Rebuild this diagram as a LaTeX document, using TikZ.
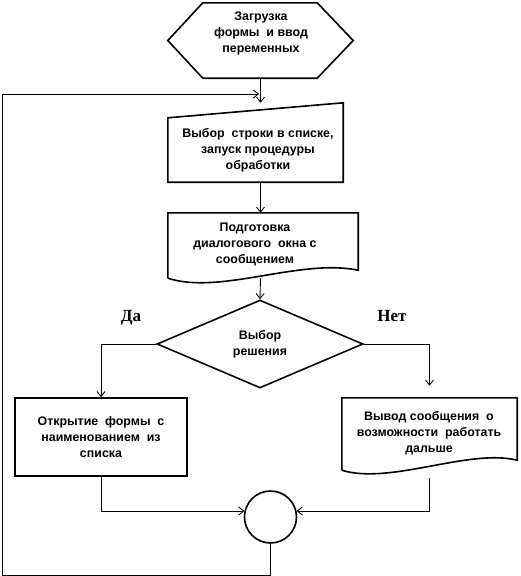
\documentclass[tikz,border=0pt]{standalone}
\usepackage{fontspec}
\setmainfont{Liberation Sans}
\newfontfamily\answerfont{Liberation Serif}
\usetikzlibrary{shapes.geometric}
\usetikzlibrary{arrows.meta}
\tikzset{
	frame/.style={rectangle, inner sep=0pt},
	txt/.style={align=center, inner sep=0pt, font=\bfseries\fontsize{12.4}{16}\selectfont},
	outline/.style={draw, line width=1.6pt},
	box/.style={txt, draw, line width=1.6pt},
	decision/.style={txt, diamond, draw, line width=1.6pt, minimum width=206pt, minimum height=88pt},
	joint/.style={circle, draw, line width=1.6pt, minimum size=52pt, inner sep=0pt},
	answer/.style={font=\answerfont\bfseries\fontsize{17}{20}\selectfont},
}

\begin{document}
\begin{tikzpicture}[x=1pt, y=-1pt]
	\useasboundingbox (0,0) rectangle (520,576);
	
	% frames of the blocks
	\node (load) [frame, minimum width=185pt, minimum height=75pt] at (260.5,40.5) {};
	\node (choose) [frame, minimum width=175pt, minimum height=79pt] at (255.5,142.5) {};
	\node (prepare) [frame, minimum width=190pt, minimum height=69pt] at (263,247.5) {};
	\node (result) [frame, minimum width=175pt, minimum height=78pt] at (429.5,437) {};
	
	\draw[outline] (load.west) -- ([xshift=35pt]load.north west) -- ([xshift=-36pt]load.north east) -- (load.east) -- ([xshift=-36pt]load.south east) -- ([xshift=35pt]load.south west) -- cycle;
	\draw[outline] ([yshift=-15pt]choose.north west) -- (choose.north east) -- (choose.south east) -- (choose.south west) -- cycle;
	\draw[outline] ([yshift=4pt]prepare.south west) -- (prepare.north west) -- (prepare.north east) -- ([yshift=12pt]prepare.south east) .. controls +(-58,-12) and +(52,17) .. ([yshift=4pt]prepare.south west);
	\draw[outline] ([yshift=6pt]result.south west) -- (result.north west) -- (result.north east) -- ([yshift=16pt]result.south east) .. controls +(-48,-12) and +(48,15) .. ([yshift=6pt]result.south west);
	
	% texts
	\node (loadText) [txt] at (261,33) {Загрузка\\формы~ и ввод\\переменных};
	\node (chooseText) [txt] at (258,150) {Выбор~ строки в списке,\\запуск процедуры\\обработки};
	\node (prepareText) [txt] at (255,244) {Подготовка\\диалогового~ окна с\\сообщением};
	\node (resultText) [txt] at (429,433) {Вывод сообщения~ о\\возможности~ работать\\дальше};
	
	\node (decide) [decision] at (260,344) {Выбор\\решения};
	\node (open) [box, minimum width=172pt, minimum height=78pt] at (101,437) {Открытие~ формы~ с\\наименованием~ из\\списка};
	\node (join) [joint] at (270.5,517) {};
	
	\node (yes) [answer] at (131,318) {Да};
	\node (no) [answer] at (392,316) {Нет};
	
	\coordinate (corner) at (2,575);
	\coordinate (back) at (259,94);
	
	\begin{scope}[line width=0.9pt, black, ->, >={Straight Barb[length=5pt, width=8pt]}]
		\draw (load.south) -- (load.south |- choose.north);
		\draw (choose.south -| load.south) -- (prepare.north -| load.south);
		\draw ([yshift=4pt]prepare.south -| load.south) -- (decide.north);
		\draw (decide.west) -| (open.north);
		\draw[shorten >=12pt] (decide.east) -| (result.north);
		\draw (open.south) |- (join.167);
		\draw ([yshift=-2pt]result.south) |- (join.13);
		\draw (join.south) |- (corner) |- (back);
	\end{scope}
	
\end{tikzpicture}
\end{document}
